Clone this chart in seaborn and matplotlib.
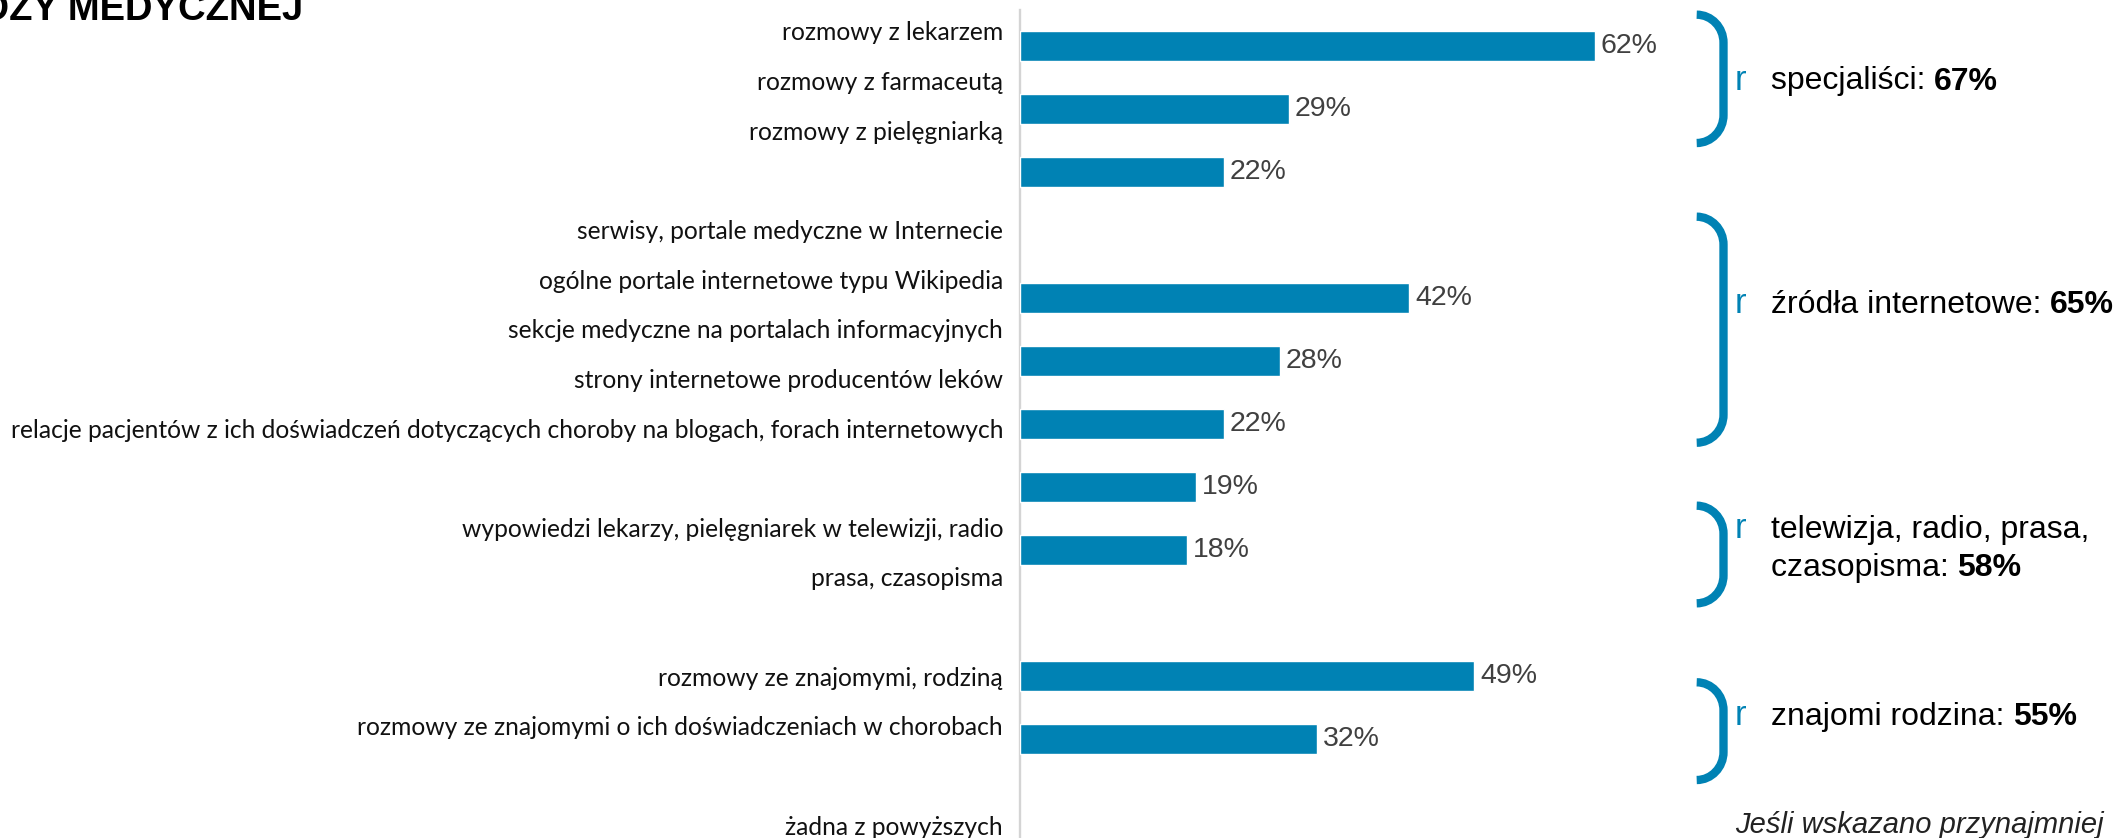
import matplotlib
matplotlib.use("Agg")
import matplotlib.pyplot as plt
import seaborn as sns
import pandas as pd
from matplotlib.path import Path
from matplotlib.patches import PathPatch

# ---------------- data ----------------
labels = [
    "rozmowy z lekarzem",
    "rozmowy z farmaceutą",
    "rozmowy z pielęgniarką",
    "",
    "serwisy, portale medyczne w Internecie",
    "ogólne portale internetowe typu Wikipedia",
    "sekcje medyczne na portalach informacyjnych",
    "strony internetowe producentów leków",
    "relacje pacjentów z ich doświadczeń dotyczących choroby na blogach, forach internetowych",
    "",
    "wypowiedzi lekarzy, pielęgniarek w telewizji, radio",
    "prasa, czasopisma",
    "",
    "rozmowy ze znajomymi, rodziną",
    "rozmowy ze znajomymi o ich doświadczeniach w chorobach",
    "",
    "żadna z powyższych",
]
bar_slots = ["s01", "s02", "s03", "s04", "s05", "s06", "s07", "s08", "s09", "s10", "s11", "s12"]
bar_values = [62, 29, 22, None, 42, 28, 22, 19, 18, None, 49, 32]

group_lines = [["specjaliści: "], ["źródła internetowe: "], ["telewizja, radio, prasa,", "czasopisma: "], ["znajomi rodzina: "]]
group_totals = [67, 65, 58, 55]
title = "ŹRÓDŁA WIEDZY MEDYCZNEJ"
footnote = "Jeśli wskazano przynajmniej"

# ---------------- style ----------------
BLUE = "#0082B4"
W, H, DPI = 2119, 838, 100
sns.set_style("white")
plt.rcParams["font.family"] = ["Liberation Sans", "DejaVu Sans"]

fig = plt.figure(figsize=(W / DPI, H / DPI), dpi=DPI)
fig.patch.set_facecolor("white")

ax_left, ax_right, ax_top = 1020, 1947, 10
ax_lab = fig.add_axes([ax_left / W, 0, (ax_right - ax_left) / W, (H - ax_top) / H])
ax_bar = ax_lab.twinx()

df = pd.DataFrame({"slot": bar_slots, "value": bar_values}).dropna()
sns.barplot(data=df, x="value", y="slot", order=bar_slots, orient="h",
            color=BLUE, saturation=1, width=0.476, errorbar=None, ax=ax_bar)

ax_bar.set_xlim(0, 100)
# bar axis: slot k centre at 46 + 63 k pixels from the top
ax_bar.set_ylim(-0.5714 + (H - ax_top) / 63.0, -0.5714)
ax_bar.set_yticks([])
ax_bar.set_xlabel("")
ax_bar.set_ylabel("")
for s in ax_bar.spines.values():
    s.set_visible(False)

for cont in ax_bar.containers:
    ax_bar.bar_label(cont, labels=[f"{b.get_width():.0f}%" for b in cont],
                     padding=4.3, fontsize=20.5, color="#404040",
                     family=["Liberation Sans", "DejaVu Sans"])

# label axis: slot i centre at 31 + 49.625 i pixels from the top
step = 49.625
top = -21 / step
ax_lab.set_ylim(top + (H - ax_top) / step, top)
ax_lab.set_yticks(range(len(labels)))
ax_lab.set_yticklabels(labels, fontsize=17, family=["Lato", "DejaVu Sans"], color="#111111")
ax_lab.tick_params(axis="y", length=0, pad=12.2)
ax_lab.set_xticks([])
for name, s in ax_lab.spines.items():
    s.set_visible(name == "left")
ax_lab.spines["left"].set_color("#D4D4D4")
ax_lab.spines["left"].set_linewidth(1.7)

# fit label font so the longest label spans ~990 px
fig.canvas.draw()
rend = fig.canvas.get_renderer()
wmax = max(t.get_window_extent(rend).width for t in ax_lab.get_yticklabels())
fs = 17 * 989.5 / wmax
for t in ax_lab.get_yticklabels():
    t.set_fontsize(fs)

# ---------------- overlay annotations (pixel coordinates) ----------------
ov = fig.add_axes([0, 0, 1, 1], zorder=5)
ov.set_xlim(0, W)
ov.set_ylim(H, 0)
ov.axis("off")
ov.patch.set_alpha(0)

ov.text(303, 19.5, title, ha="right", va="baseline", fontsize=27.5, fontweight="bold", color="black")

brackets = [(14.7, 143), (216.7, 442.7), (505.7, 603.3), (682.3, 780)]
baselines = [[89.5], [313.3], [538.3, 575.7], [725]]
x0, x1, ry = 1696.7, 1723.5, 28
for (yt, yb), bls, lines, tot in zip(brackets, baselines, group_lines, group_totals):
    rx = x1 - x0
    verts = [(x0, yt), (x0 + 0.55 * rx, yt), (x1, yt + ry * 0.45), (x1, yt + ry),
             (x1, yb - ry),
             (x1, yb - ry * 0.45), (x0 + 0.55 * rx, yb), (x0, yb)]
    codes = [Path.MOVETO, Path.CURVE4, Path.CURVE4, Path.CURVE4, Path.LINETO,
             Path.CURVE4, Path.CURVE4, Path.CURVE4]
    ov.add_patch(PathPatch(Path(verts, codes), fill=False, edgecolor=BLUE, lw=6.0, capstyle="butt"))
    ov.text(1735, bls[0], "r", fontsize=25, color=BLUE, va="baseline", ha="left")
    last = None
    for ln, bl in zip(lines, bls):
        last = ov.text(1770.7, bl, ln, fontsize=23, color="black", va="baseline", ha="left")
    fig.canvas.draw()
    bb = last.get_window_extent(fig.canvas.get_renderer())
    xe = ov.transData.inverted().transform((bb.x1, bb.y0))[0]
    ov.text(xe, bls[-1], f"{tot}%", fontsize=23, fontweight="bold", color="black",
            va="baseline", ha="left")

ov.text(1735, 833, footnote, fontsize=21, fontstyle="italic", color="#222222",
        va="baseline", ha="left")

fig.savefig("out.png", dpi=DPI, facecolor="white")
